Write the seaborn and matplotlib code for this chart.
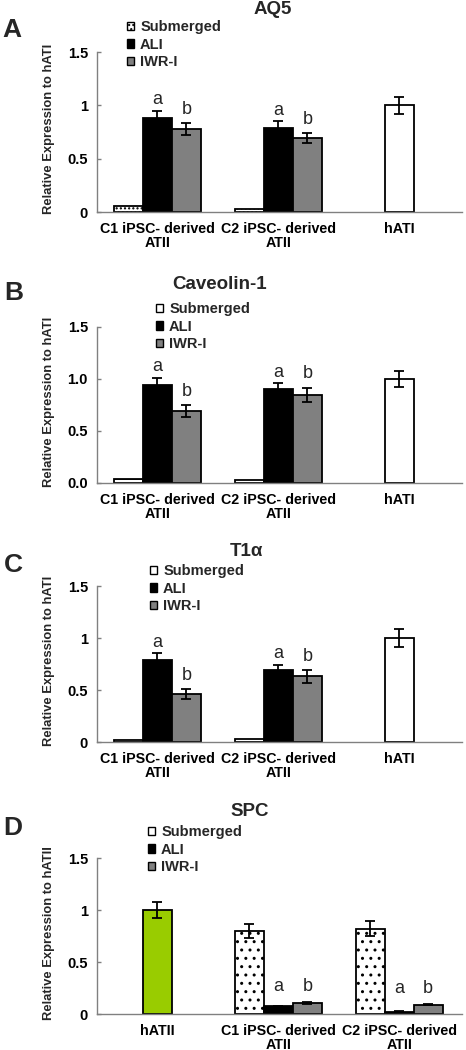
import numpy as np
import pandas as pd
import seaborn as sns
import matplotlib
matplotlib.use("Agg")
import matplotlib.pyplot as plt
from matplotlib.patches import Patch
from matplotlib.container import BarContainer

sns.set_theme(style="white")
plt.rcParams["font.family"] = ["Liberation Sans", "DejaVu Sans"]
plt.rcParams["hatch.linewidth"] = 1.0

# ---------------- data ----------------
conditions = ["Submerged", "ALI", "IWR-I"]
groups = ["C1 iPSC- derived\nATII", "C2 iPSC- derived\nATII"]

titles = ["AQ5", "Caveolin-1", "T1\u03b1", "SPC"]
panel_letters = ["A", "B", "C", "D"]
ref_labels = ["hATI", "hATI", "hATI", "hATII"]
ylabels = ["Relative Expression to hATI", "Relative Expression to hATI",
           "Relative Expression to hATI", "Relative Expression to hATII"]

yticks = [0, 0.5, 1, 1.5]
ytick_labels_plain = ["0", "0.5", "1", "1.5"]
ytick_labels_dec = ["0.0", "0.5", "1.0", "1.5"]

aq5_sub = [0.06, 0.03]
aq5_sub_err = [0.0, 0.0]
aq5_ali = [0.88, 0.79]
aq5_ali_err = [0.068, 0.06]
aq5_iwr = [0.78, 0.69]
aq5_iwr_err = [0.055, 0.047]
aq5_ref = 1.0
aq5_ref_err = 0.08

cav_sub = [0.042, 0.026]
cav_sub_err = [0.0, 0.0]
cav_ali = [0.94, 0.90]
cav_ali_err = [0.07, 0.06]
cav_iwr = [0.69, 0.85]
cav_iwr_err = [0.058, 0.067]
cav_ref = 1.0
cav_ref_err = 0.073

t1a_sub = [0.015, 0.028]
t1a_sub_err = [0.0, 0.0]
t1a_ali = [0.79, 0.69]
t1a_ali_err = [0.063, 0.054]
t1a_iwr = [0.46, 0.63]
t1a_iwr_err = [0.048, 0.058]
t1a_ref = 1.0
t1a_ref_err = 0.083

spc_sub = [0.80, 0.82]
spc_sub_err = [0.067, 0.07]
spc_ali = [0.076, 0.022]
spc_ali_err = [0.005, 0.004]
spc_iwr = [0.105, 0.089]
spc_iwr_err = [0.01, 0.006]
spc_ref = 1.0
spc_ref_err = 0.08

sig_letters = {"ALI": "a", "IWR-I": "b"}

# ---------------- styles ----------------
cond_colors = {"Submerged": "white", "ALI": "black", "IWR-I": "#808080"}
sub_hatches = ["....", "--", None, ".."]
ref_colors = ["white", "white", "white", "#99CC00"]
ref_first = [False, False, False, True]

W, H = 466, 1050
fig = plt.figure(figsize=(W / 100, H / 100), dpi=100)

axes_px = [(52, 212), (327, 483), (586, 742), (858, 1014)]
left_px, right_px = 97, 462
title_px = [(273, 9), (220, 284), (246, 552), (250, 812)]
letter_px = [(12, 30), (14, 293), (13, 565), (13, 828)]
legend_px = [(127, 20), (156, 302), (150, 564), (148, 825)]

panels = [
    (aq5_sub, aq5_sub_err, aq5_ali, aq5_ali_err, aq5_iwr, aq5_iwr_err, aq5_ref, aq5_ref_err),
    (cav_sub, cav_sub_err, cav_ali, cav_ali_err, cav_iwr, cav_iwr_err, cav_ref, cav_ref_err),
    (t1a_sub, t1a_sub_err, t1a_ali, t1a_ali_err, t1a_iwr, t1a_iwr_err, t1a_ref, t1a_ref_err),
    (spc_sub, spc_sub_err, spc_ali, spc_ali_err, spc_iwr, spc_iwr_err, spc_ref, spc_ref_err),
]

for i, (sub, sube, ali, alie, iwr, iwre, ref, refe) in enumerate(panels):
    top, bot = axes_px[i]
    ax = fig.add_axes([left_px / W, 1 - bot / H, (right_px - left_px) / W, (bot - top) / H])
    ref_lab = ref_labels[i]
    order = [ref_lab] + groups if ref_first[i] else groups + [ref_lab]

    rows = []
    errs = {}
    for cond, vals, ers in zip(conditions, [sub, ali, iwr], [sube, alie, iwre]):
        for g, v, e in zip(groups, vals, ers):
            rows.append({"group": g, "condition": cond, "value": v})
            errs[(g, cond)] = e
    df = pd.DataFrame(rows)
    ref_df = pd.DataFrame({"group": [ref_lab], "value": [ref]})

    sns.barplot(data=df, x="group", y="value", hue="condition", order=order,
                hue_order=conditions, palette=cond_colors, width=0.72, saturation=1,
                edgecolor="black", linewidth=1.3, errorbar=None, legend=False, ax=ax)
    group_conts = [c for c in ax.containers if isinstance(c, BarContainer)]
    sns.barplot(data=ref_df, x="group", y="value", order=order, color=ref_colors[i],
                width=0.24, saturation=1, edgecolor="black", linewidth=1.3,
                errorbar=None, ax=ax)
    ref_conts = [c for c in ax.containers if isinstance(c, BarContainer)][len(group_conts):]

    letter_tops = {}
    for ci, cont in enumerate(group_conts):
        cond = conditions[ci]
        for p in cont:
            if p is None:
                continue
            xc = p.get_x() + p.get_width() / 2
            g = order[int(round(xc))]
            if g not in groups:
                continue
            h = p.get_height()
            e = errs[(g, cond)]
            if cond == "Submerged" and sub_hatches[i]:
                p.set_hatch(sub_hatches[i])
            if e > 0:
                ax.errorbar(xc, h, yerr=e, fmt="none", ecolor="black",
                            elinewidth=1.3, capsize=3.5, capthick=1.3, zorder=5)
            if cond in sig_letters:
                letter_tops.setdefault(g, []).append((xc, cond, h + e))
    for g, items in letter_tops.items():
        gmax = max(t for _, _, t in items)
        for xc, cond, t in items:
            if ref_first[i]:
                yv = gmax + 0.07
            else:
                yv = t + (0.025 if cond == "ALI" else 0.05)
            ax.text(xc, yv, sig_letters[cond], ha="center", va="bottom", fontsize=13)

    for cont in ref_conts:
        for p in cont:
            if p is None:
                continue
            xc = p.get_x() + p.get_width() / 2
            ax.errorbar(xc, p.get_height(), yerr=refe, fmt="none", ecolor="black",
                        elinewidth=1.3, capsize=3.5, capthick=1.3, zorder=5)

    ax.set_ylim(0, 1.5)
    ax.set_xlim(-0.5, 2.52)
    ax.set_yticks(yticks)
    ax.set_yticklabels(ytick_labels_dec if i == 1 else ytick_labels_plain,
                       fontsize=10.5, fontweight="bold")
    ax.set_xticks(range(len(order)))
    ax.set_xticklabels(order, fontsize=10.3, fontweight="bold", linespacing=0.95)
    ax.set_xlabel("")
    ax.set_ylabel(ylabels[i], fontsize=9.4, fontweight="bold")
    ax.yaxis.set_label_coords(-0.115, 0.52)
    for s in ["top", "right"]:
        ax.spines[s].set_visible(False)
    for s in ["left", "bottom"]:
        ax.spines[s].set_color("#808080")
        ax.spines[s].set_linewidth(1.0)
    ax.tick_params(axis="y", direction="in", length=3, width=1, color="#808080",
                   left=True, pad=6.5, labelcolor="black")
    ax.tick_params(axis="x", length=0, pad=7.5, labelcolor="black")

    handles = [Patch(facecolor=cond_colors[c], edgecolor="black", linewidth=1.0,
                     hatch=("...." if (c == "Submerged" and i == 0) else None))
               for c in conditions]
    lx, ly = legend_px[i]
    ax.legend(handles, conditions, loc="upper left", bbox_to_anchor=(lx / W, 1 - ly / H),
              bbox_transform=fig.transFigure, frameon=False, prop={"weight": "bold", "size": 10.5},
              handlelength=0.5, handleheight=0.5, handletextpad=0.4, labelspacing=0.25,
              borderpad=0, borderaxespad=0)

    tx, ty = title_px[i]
    fig.text(tx / W, 1 - ty / H, titles[i], ha="center", va="center", fontsize=13.5,
             fontweight="bold")
    px, py = letter_px[i]
    fig.text(px / W, 1 - py / H, panel_letters[i], ha="center", va="center", fontsize=19,
             fontweight="bold")

fig.savefig("out.png", dpi=100)
